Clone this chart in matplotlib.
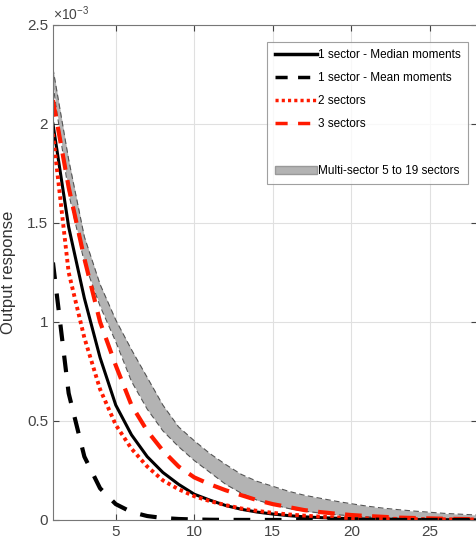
import numpy as np
import matplotlib
matplotlib.use("Agg")
import matplotlib.pyplot as plt
from matplotlib.ticker import FuncFormatter
from matplotlib.patches import Patch
from matplotlib.lines import Line2D

plt.rcParams['font.family'] = ['Liberation Sans', 'DejaVu Sans']
plt.rcParams['mathtext.default'] = 'regular'

# horizonte (trimestres)
periodos = np.arange(1, 29)

# respuestas en unidades de 1e-3
mediana_1s = [2.00, 1.48, 1.12, 0.82, 0.58, 0.43, 0.32, 0.24, 0.18, 0.13,
              0.10, 0.073, 0.054, 0.040, 0.030, 0.022, 0.016, 0.012, 0.009, 0.007,
              0.005, 0.004, 0.003, 0.002, 0.0015, 0.001, 0.0008, 0.0006]
media_1s = [1.30, 0.64, 0.32, 0.16, 0.08, 0.04, 0.02, 0.01, 0.005, 0.0025,
            0.0012, 0.0006, 0.0003, 0.0002, 0.0001, 0, 0, 0, 0, 0,
            0, 0, 0, 0, 0, 0, 0, 0]
sectores_2 = [1.95, 1.25, 0.92, 0.66, 0.48, 0.36, 0.27, 0.20, 0.155, 0.12,
              0.095, 0.075, 0.058, 0.046, 0.036, 0.028, 0.022, 0.017, 0.013, 0.010,
              0.008, 0.0065, 0.0055, 0.0045, 0.004, 0.0035, 0.003, 0.0025]
sectores_3 = [2.12, 1.68, 1.32, 1.00, 0.78, 0.58, 0.45, 0.35, 0.27, 0.215,
              0.18, 0.15, 0.125, 0.10, 0.08, 0.065, 0.05, 0.04, 0.032, 0.025,
              0.02, 0.016, 0.012, 0.01, 0.008, 0.006, 0.005, 0.004]
banda_sup = [2.28, 1.82, 1.43, 1.19, 1.01, 0.86, 0.72, 0.58, 0.47, 0.40,
             0.335, 0.28, 0.23, 0.195, 0.17, 0.145, 0.125, 0.11, 0.095, 0.082,
             0.07, 0.06, 0.052, 0.045, 0.039, 0.033, 0.029, 0.025]
banda_inf = [2.20, 1.65, 1.30, 1.08, 0.90, 0.70, 0.56, 0.45, 0.37, 0.30,
             0.24, 0.18, 0.135, 0.10, 0.078, 0.058, 0.045, 0.035, 0.027, 0.021,
             0.016, 0.012, 0.009, 0.007, 0.005, 0.004, 0.003, 0.002]

escala = 1e-3
gris = '#b3b3b3'

fig = plt.figure(figsize=(4.77, 5.52), dpi=100)
ax = fig.add_axes([0.111, 0.058, 0.889, 0.897])

# banda multisectorial
ax.fill_between(periodos, np.array(banda_inf) * escala, np.array(banda_sup) * escala,
                color=gris, linewidth=0)
ax.plot(periodos, np.array(banda_sup) * escala, color='#555555', lw=0.8, dashes=(5, 3))
ax.plot(periodos, np.array(banda_inf) * escala, color='#555555', lw=0.8, dashes=(5, 3))

ax.plot(periodos, np.array(sectores_3) * escala, color='#ff1a00', lw=3, dashes=(4, 2.5))
ax.plot(periodos, np.array(mediana_1s) * escala, color='black', lw=2.2)
ax.plot(periodos, np.array(sectores_2) * escala, color='#ff1a00', lw=2.8, dashes=(0.9, 0.9))
ax.plot(periodos, np.array(media_1s) * escala, color='black', lw=3, dashes=(4, 3.5))

ax.set_xlim(1, 28)
ax.set_ylim(0, 2.5e-3)
ax.set_xticks([5, 10, 15, 20, 25])
ax.set_yticks(np.arange(0, 2.51e-3, 0.5e-3))
ax.yaxis.set_major_formatter(FuncFormatter(lambda v, pos: '%g' % round(v / escala, 2)))
ax.text(0.0, 1.004, r'$\times10^{-3}$', transform=ax.transAxes, fontsize=10,
        color='#444444', ha='left', va='bottom')

ax.grid(True, color='#e0e0e0', linewidth=0.8)
ax.set_axisbelow(True)
ax.tick_params(direction='in', colors='#444444', labelsize=11, length=4,
               top=True, right=True)
for s in ax.spines.values():
    s.set_color('#777777')
    s.set_linewidth(0.8)

ax.set_ylabel('Output response', fontsize=12, color='#333333', labelpad=8)

# leyenda estilo MATLAB con una entrada vacia
handles = [
    Line2D([], [], color='black', lw=2.5),
    Line2D([], [], color='black', lw=2.5, dashes=(3.5, 3)),
    Line2D([], [], color='#ff1a00', lw=2.5, dashes=(0.9, 0.9)),
    Line2D([], [], color='#ff1a00', lw=2.5, dashes=(3.5, 3)),
    Line2D([], [], color='none'),
    Patch(facecolor=gris, edgecolor='#999999'),
]
labels = ['1 sector - Median moments', '1 sector - Mean moments', '2 sectors',
          '3 sectors', ' ', 'Multi-sector 5 to 19 sectors']
leg = ax.legend(handles, labels, loc='upper right', bbox_to_anchor=(0.979, 0.966),
                fontsize=8.5, frameon=True, fancybox=False, handlelength=3.6,
                handletextpad=0.1, labelspacing=0.95, borderpad=0.6,
                borderaxespad=0)
leg.get_frame().set_edgecolor('#888888')
leg.get_frame().set_linewidth(0.8)

plt.savefig('out.png', dpi=100)
